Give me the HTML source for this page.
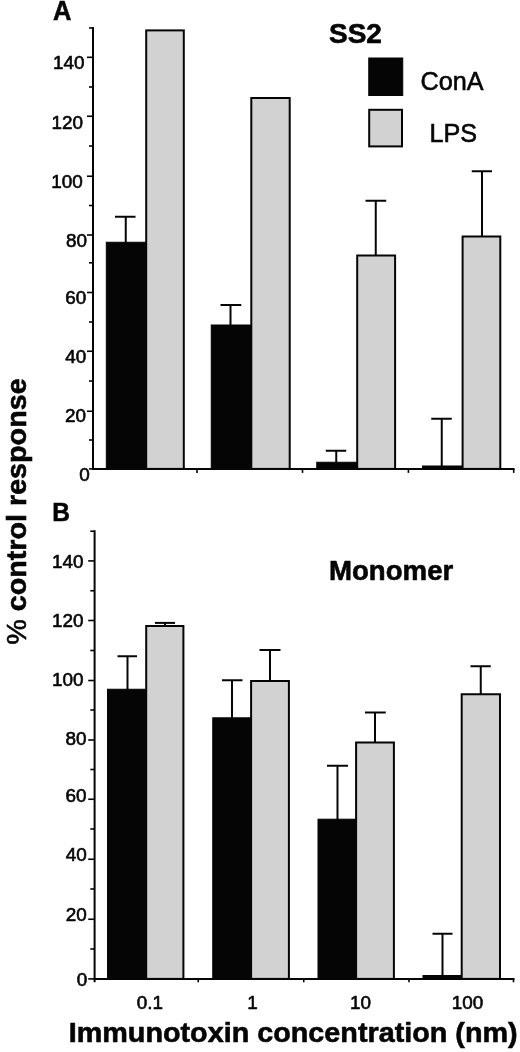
<!DOCTYPE html>
<html lang="en"><head><meta charset="utf-8"><title>Figure</title>
<style>html,body{margin:0;padding:0;background:#fff}svg{display:block}text{font-family:"Liberation Sans", Arial, Helvetica, sans-serif;fill:#050505;stroke:#050505;stroke-width:0.6;stroke-linejoin:round}.b{font-weight:bold;stroke-width:0.6}.l{stroke:#050505;stroke-width:2.0;fill:none;stroke-linecap:butt}.k{fill:#050505;stroke:#050505;stroke-width:1}.g{fill:#d2d2d2;stroke:#050505;stroke-width:2.0}</style></head><body>
<svg width="520" height="1052" viewBox="0 0 520 1052">
<rect width="520" height="1052" fill="#fff"/>
<line class="l" x1="125.75" y1="216.75" x2="125.75" y2="243"/>
<line class="l" x1="115" y1="216.75" x2="135.5" y2="216.75"/>
<line class="l" x1="230.5" y1="305" x2="230.5" y2="326"/>
<line class="l" x1="220.5" y1="305" x2="241.25" y2="305"/>
<line class="l" x1="336.25" y1="450.75" x2="336.25" y2="463"/>
<line class="l" x1="325.75" y1="450.75" x2="346.25" y2="450.75"/>
<line class="l" x1="375.75" y1="200.75" x2="375.75" y2="256"/>
<line class="l" x1="365.5" y1="200.75" x2="386.25" y2="200.75"/>
<line class="l" x1="441.75" y1="418.75" x2="441.75" y2="467"/>
<line class="l" x1="431.25" y1="418.75" x2="451.75" y2="418.75"/>
<line class="l" x1="482" y1="171.25" x2="482" y2="237"/>
<line class="l" x1="471.75" y1="171.25" x2="492" y2="171.25"/>
<rect class="g" x="146.2" y="30.4" width="37.60000000000002" height="438.5"/>
<rect class="g" x="251.3" y="98.0" width="38.39999999999998" height="370.9"/>
<rect class="g" x="357.2" y="255.5" width="37.900000000000034" height="213.39999999999998"/>
<rect class="g" x="462.6" y="236.5" width="37.69999999999999" height="232.39999999999998"/>
<rect class="k" x="106.3" y="242.25" width="39.2" height="226.64999999999998"/>
<rect class="k" x="211.25" y="325.0" width="39.75" height="143.89999999999998"/>
<rect class="k" x="316.75" y="462.25" width="39.75" height="6.649999999999977"/>
<rect class="k" x="422.5" y="466.0" width="39.5" height="2.8999999999999773"/>
<line class="l" x1="93" y1="27.0" x2="93" y2="469.9"/>
<line class="l" x1="92.0" y1="468.9" x2="514.5" y2="468.9"/>
<line class="l" style="stroke-width:1.6" x1="89" y1="28" x2="93" y2="28"/>
<line class="l" style="stroke-width:1.6" x1="87" y1="57.3" x2="93" y2="57.3"/>
<line class="l" style="stroke-width:1.6" x1="89" y1="87" x2="93" y2="87"/>
<line class="l" style="stroke-width:1.6" x1="87" y1="116.25" x2="93" y2="116.25"/>
<line class="l" style="stroke-width:1.6" x1="89" y1="146" x2="93" y2="146"/>
<line class="l" style="stroke-width:1.6" x1="87" y1="176.25" x2="93" y2="176.25"/>
<line class="l" style="stroke-width:1.6" x1="89" y1="205.5" x2="93" y2="205.5"/>
<line class="l" style="stroke-width:1.6" x1="87" y1="235" x2="93" y2="235"/>
<line class="l" style="stroke-width:1.6" x1="89" y1="262.8" x2="93" y2="262.8"/>
<line class="l" style="stroke-width:1.6" x1="87" y1="292.5" x2="93" y2="292.5"/>
<line class="l" style="stroke-width:1.6" x1="89" y1="322" x2="93" y2="322"/>
<line class="l" style="stroke-width:1.6" x1="87" y1="351.25" x2="93" y2="351.25"/>
<line class="l" style="stroke-width:1.6" x1="89" y1="381" x2="93" y2="381"/>
<line class="l" style="stroke-width:1.6" x1="87" y1="411.25" x2="93" y2="411.25"/>
<line class="l" style="stroke-width:1.6" x1="89" y1="440" x2="93" y2="440"/>
<line class="l" style="stroke-width:1.6" x1="89" y1="468.9" x2="93" y2="468.9"/>
<line class="l" style="stroke-width:1.6" x1="197" y1="468.9" x2="197" y2="472.9"/>
<line class="l" style="stroke-width:1.6" x1="302.5" y1="468.9" x2="302.5" y2="472.9"/>
<line class="l" style="stroke-width:1.6" x1="408.4" y1="468.9" x2="408.4" y2="472.9"/>
<line class="l" style="stroke-width:1.6" x1="513.7" y1="468.9" x2="513.7" y2="472.9"/>
<text x="89.8" y="480.5" font-size="18.9" text-anchor="end">0</text>
<text x="85.9" y="421.9" font-size="18.9" text-anchor="end">20</text>
<text x="86.3" y="362.7" font-size="18.9" text-anchor="end">40</text>
<text x="86.3" y="303.8" font-size="18.9" text-anchor="end">60</text>
<text x="87.1" y="246.9" font-size="18.9" text-anchor="end">80</text>
<text x="82.8" y="187.6" font-size="18.9" text-anchor="end">100</text>
<text x="83.1" y="128.6" font-size="18.9" text-anchor="end">120</text>
<text x="84.5" y="68.5" font-size="18.9" text-anchor="end">140</text>
<rect class="k" x="368.75" y="58" width="34" height="37.5"/>
<rect class="g" x="369.2" y="109.8" width="32.8" height="36.6"/>
<text x="420.6" y="89.5" font-size="25.2">ConA</text>
<text x="429.5" y="141.7" font-size="25.2">LPS</text>
<text class="b" x="329" y="43.2" font-size="28">SS2</text>
<text class="b" transform="translate(52.9 20.1) scale(0.945 1)" font-size="27">A</text>
<line class="l" x1="127.5" y1="656.25" x2="127.5" y2="690"/>
<line class="l" x1="117.5" y1="656.25" x2="137" y2="656.25"/>
<line class="l" x1="165" y1="622.9" x2="165" y2="627"/>
<line class="l" x1="155" y1="622.9" x2="175" y2="622.9"/>
<line class="l" x1="232" y1="680.25" x2="232" y2="719"/>
<line class="l" x1="222" y1="680.25" x2="242.5" y2="680.25"/>
<line class="l" x1="270" y1="650" x2="270" y2="682"/>
<line class="l" x1="259.5" y1="650" x2="280.5" y2="650"/>
<line class="l" x1="337.5" y1="765.75" x2="337.5" y2="820"/>
<line class="l" x1="327" y1="765.75" x2="348" y2="765.75"/>
<line class="l" x1="375" y1="712.5" x2="375" y2="743"/>
<line class="l" x1="365" y1="712.5" x2="385.75" y2="712.5"/>
<line class="l" x1="442.5" y1="933.75" x2="442.5" y2="976"/>
<line class="l" x1="432.5" y1="933.75" x2="452.5" y2="933.75"/>
<line class="l" x1="480.75" y1="666.25" x2="480.75" y2="695"/>
<line class="l" x1="470.5" y1="666.25" x2="490.75" y2="666.25"/>
<rect class="g" x="146.2" y="626.0" width="37.20000000000002" height="352.9"/>
<rect class="g" x="251.1" y="681.0" width="37.79999999999998" height="297.9"/>
<rect class="g" x="356.1" y="742.5" width="37.799999999999955" height="236.39999999999998"/>
<rect class="g" x="461.7" y="694.25" width="38.30000000000001" height="284.65"/>
<rect class="k" x="107.5" y="689.25" width="38" height="289.65"/>
<rect class="k" x="212.75" y="717.8" width="37.75" height="261.1"/>
<rect class="k" x="318.0" y="819.2" width="37.25" height="159.69999999999993"/>
<rect class="k" x="423.0" y="975.5" width="38.5" height="3.3999999999999773"/>
<line class="l" x1="94.6" y1="530.25" x2="94.6" y2="982.3"/>
<line class="l" x1="93.6" y1="978.9" x2="514.5" y2="978.9"/>
<line class="l" style="stroke-width:1.6" x1="90.3" y1="531.25" x2="94.6" y2="531.25"/>
<line class="l" style="stroke-width:1.6" x1="88.2" y1="560.9" x2="94.6" y2="560.9"/>
<line class="l" style="stroke-width:1.6" x1="90.3" y1="590.75" x2="94.6" y2="590.75"/>
<line class="l" style="stroke-width:1.6" x1="88.2" y1="620.5" x2="94.6" y2="620.5"/>
<line class="l" style="stroke-width:1.6" x1="90.3" y1="650.5" x2="94.6" y2="650.5"/>
<line class="l" style="stroke-width:1.6" x1="88.2" y1="680.5" x2="94.6" y2="680.5"/>
<line class="l" style="stroke-width:1.6" x1="90.3" y1="710" x2="94.6" y2="710"/>
<line class="l" style="stroke-width:1.6" x1="88.2" y1="740" x2="94.6" y2="740"/>
<line class="l" style="stroke-width:1.6" x1="90.3" y1="769.5" x2="94.6" y2="769.5"/>
<line class="l" style="stroke-width:1.6" x1="88.2" y1="799.25" x2="94.6" y2="799.25"/>
<line class="l" style="stroke-width:1.6" x1="90.3" y1="829" x2="94.6" y2="829"/>
<line class="l" style="stroke-width:1.6" x1="88.2" y1="859.25" x2="94.6" y2="859.25"/>
<line class="l" style="stroke-width:1.6" x1="90.3" y1="889" x2="94.6" y2="889"/>
<line class="l" style="stroke-width:1.6" x1="88.2" y1="919.25" x2="94.6" y2="919.25"/>
<line class="l" style="stroke-width:1.6" x1="90.3" y1="949" x2="94.6" y2="949"/>
<line class="l" style="stroke-width:1.6" x1="88.2" y1="978.9" x2="94.6" y2="978.9"/>
<line class="l" style="stroke-width:1.6" x1="198.25" y1="978.9" x2="198.25" y2="982.3"/>
<line class="l" style="stroke-width:1.6" x1="303.75" y1="978.9" x2="303.75" y2="982.3"/>
<line class="l" style="stroke-width:1.6" x1="409" y1="978.9" x2="409" y2="982.3"/>
<line class="l" style="stroke-width:1.6" x1="513.5" y1="978.9" x2="513.5" y2="982.3"/>
<text x="87.3" y="985.6" font-size="18.9" text-anchor="end">0</text>
<text x="86.8" y="920.5" font-size="18.9" text-anchor="end">20</text>
<text x="86.8" y="861.3" font-size="18.9" text-anchor="end">40</text>
<text x="86.5" y="801.9" font-size="18.9" text-anchor="end">60</text>
<text x="86.5" y="744.7" font-size="18.9" text-anchor="end">80</text>
<text x="83.6" y="686.0" font-size="18.9" text-anchor="end">100</text>
<text x="83.6" y="627.4" font-size="18.9" text-anchor="end">120</text>
<text x="83.6" y="567.7" font-size="18.9" text-anchor="end">140</text>
<text x="150" y="1009.2" font-size="18.9" text-anchor="middle">0.1</text>
<text x="252.5" y="1009.2" font-size="18.9" text-anchor="middle">1</text>
<text x="360.5" y="1009.2" font-size="18.9" text-anchor="middle">10</text>
<text x="467.5" y="1009.2" font-size="18.9" text-anchor="middle">100</text>
<text class="b" transform="translate(329 580) scale(0.987 1)" font-size="28">Monomer</text>
<text class="b" transform="translate(52.2 520.8) scale(0.93 1)" font-size="26.4">B</text>
<text class="b" transform="translate(68.7 1042) scale(1.0095 1)" font-size="28.5">Immunotoxin concentration (nm)</text>
<text class="b" transform="translate(26.4 644.8) rotate(-90) scale(1.0115 1)" font-size="28.4"><tspan style="font-weight:normal">%</tspan> control response</text>
</svg></body></html>
